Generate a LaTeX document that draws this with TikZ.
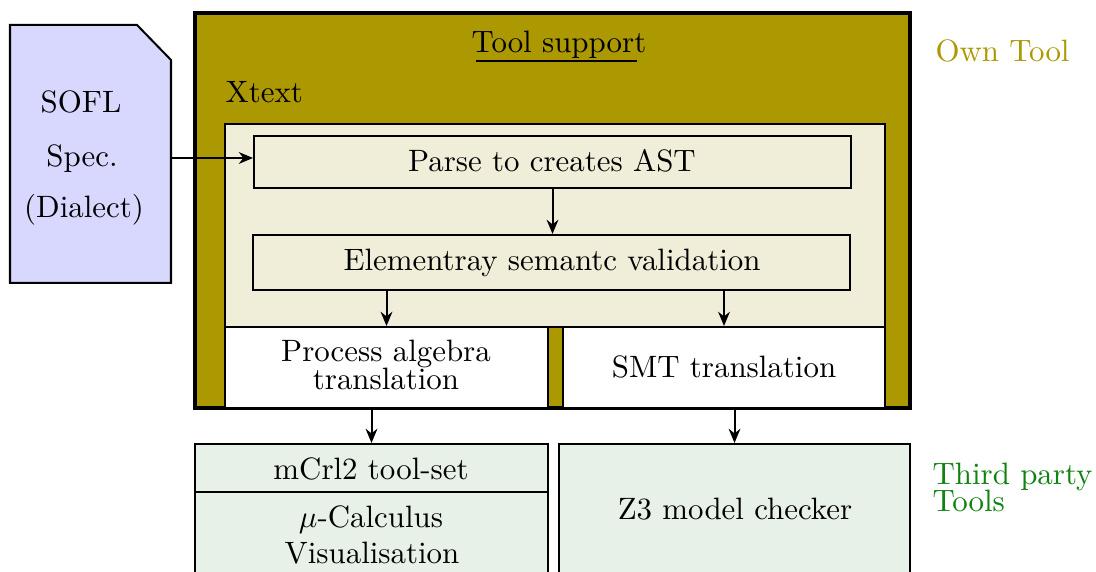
\documentclass[tikz,border=0pt]{standalone}
\usetikzlibrary{arrows.meta,fit}
\definecolor{toololive}{RGB}{172,152,0}
\definecolor{xtextbg}{RGB}{240,237,216}
\definecolor{thirdbg}{RGB}{232,241,232}
\definecolor{specbg}{RGB}{216,216,255}
\definecolor{thirdgreen}{RGB}{15,130,15}
\begin{document}
\begin{tikzpicture}[x=0.3236pt,y=-0.3236pt,
  box/.style={draw=black,line width=0.65pt,inner sep=0pt},
  lbl/.style={anchor=base,inner sep=0pt},
  arr/.style={-{Stealth[length=4.6pt,width=3.8pt,inset=1.5pt]},line width=0.65pt}]
\useasboundingbox (0,0) rectangle (1096,572);
\clip (0,0) rectangle (1096,572);

% own tool frame
\node[box,line width=1.1pt,fill=toololive,fit={(195,13) (910,408)}] (tool) {};
\node[lbl] (tooltitle) at (559,53) {Tool support};
\coordinate (ulstart) at (476,61);
\coordinate (ulend) at (637,61);
\draw[line width=0.7pt] (ulstart) -- (ulend);
\node[lbl,anchor=base west] (xtextlbl) at (225,103) {Xtext};
\node[lbl,anchor=base west,text=toololive] (own) at (935,62) {Own Tool};

% Xtext area
\node[box,fill=xtextbg,fit={(225,124) (885,327)}] (xtext) {};
\node[box,fill=xtextbg,fit={(254,136) (851,188)}] (parse) {};
\node[lbl] (parsetxt) at (552,172) {Parse to creates AST};
\node[box,fill=xtextbg,fit={(253,235) (850,290)}] (elem) {};
\node[lbl] (elemtxt) at (552,271) {Elementray semantc validation};

% translations
\node[box,fill=white,fit={(225,327) (548,408)}] (pa) {};
\node[lbl] (patxt1) at (386,362) {Process algebra};
\node[lbl] (patxt2) at (386,390) {translation};
\node[box,fill=white,fit={(563,327) (885,408)}] (smt) {};
\node[lbl] (smttxt) at (724,378) {SMT translation};

% third party tools
\node[box,fill=thirdbg,fit={(195,444) (548,492)}] (mcrl) {};
\node[box,fill=thirdbg,fit={(195,492) (548,590)}] (mucalc) {};
\node[lbl] (mcrltxt) at (371,480) {mCrl2 tool-set};
\node[lbl] (mutxt1) at (371,527) {$\mu$-Calculus};
\node[lbl] (mutxt2) at (372,563) {Visualisation};
\node[box,fill=thirdbg,fit={(559,444) (910,590)}] (zthree) {};
\node[lbl] (ztxt) at (735,520) {Z3 model checker};
\node[lbl,anchor=base west,text=thirdgreen] (third1) at (932,485) {Third party};
\node[lbl,anchor=base west,text=thirdgreen] (third2) at (932,512) {Tools};

% specification document
\draw[line width=0.65pt,fill=specbg] (10,25) -- (137,25) -- (171,60) -- (171,283) -- (10,283) -- cycle;
\node[lbl] (spec1) at (81,113) {SOFL};
\node[lbl] (spec2) at (82,167) {Spec.};
\node[lbl] (spec3) at (84,218) {(Dialect)};
\coordinate (specout) at (171,158);

% connectors
\draw[arr] (specout) -- (parse.west |- specout);
\draw[arr] (parse.south) -- (parse.south |- elem.north);
\draw[arr] (elem.south -| pa.north) -- (pa.north);
\draw[arr] (elem.south -| smt.north) -- (smt.north);
\draw[arr] (pa.south -| mcrl.north) -- (mcrl.north);
\draw[arr] (smt.south -| zthree.north) -- (zthree.north);
\end{tikzpicture}
\end{document}
